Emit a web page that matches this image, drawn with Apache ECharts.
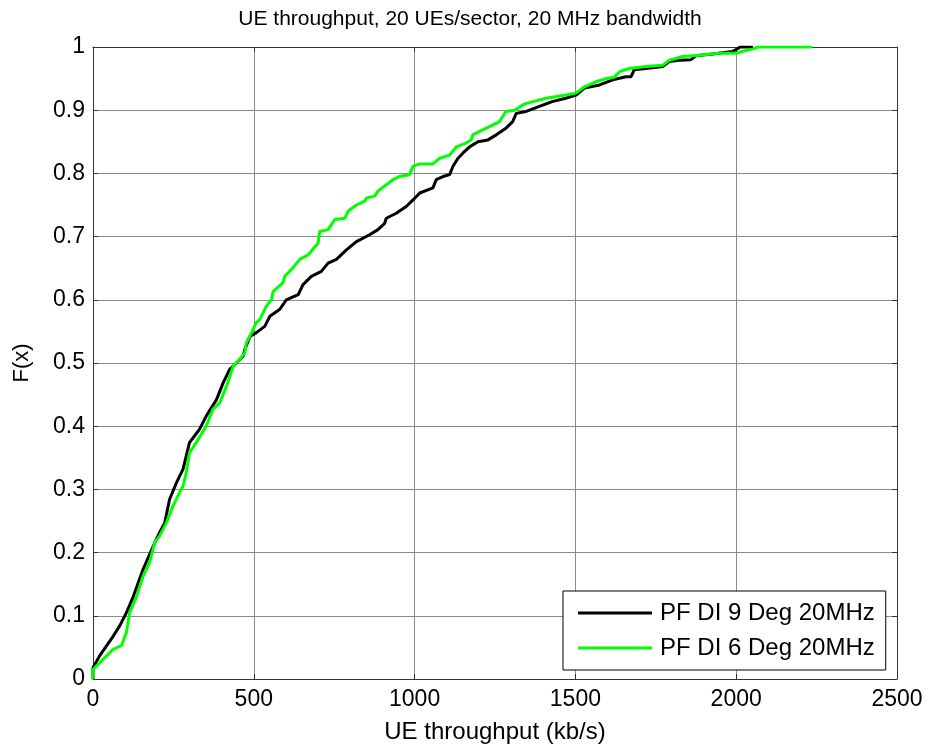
<!DOCTYPE html>
<html>
<head>
<meta charset="utf-8">
<script src="https://cdn.jsdelivr.net/npm/echarts@6/dist/echarts.min.js"></script>
<style>
  html, body { margin: 0; padding: 0; background: #fff; }
  #chart { width: 930px; height: 749px; }
</style>
</head>
<body>
<div id="chart"></div>
<script>
// Empirical CDF of UE throughput (kb/s), PF scheduler with 9 degree down-tilt
const di9Throughput = [0, 0, 21, 63, 83, 104, 125, 156, 187, 207, 223, 238, 259, 280, 300, 331, 352, 384, 405, 425, 446, 467, 472, 488, 508, 534, 550, 581, 601, 638, 653, 679, 710, 731, 757, 788, 819, 860, 886, 907, 912, 943, 975, 995, 1016, 1057, 1067, 1088, 1109, 1119, 1135, 1150, 1171, 1197, 1228, 1254, 1285, 1305, 1316, 1347, 1388, 1430, 1471, 1502, 1528, 1575, 1616, 1657, 1673, 1683, 1719, 1771, 1792, 1823, 1859, 1875, 1926, 1989, 2004, 2012, 2052];
const di9Cdf = [0, 0.018, 0.037, 0.068, 0.084, 0.105, 0.13, 0.174, 0.21, 0.232, 0.247, 0.284, 0.31, 0.332, 0.374, 0.395, 0.416, 0.442, 0.469, 0.49, 0.5, 0.511, 0.521, 0.542, 0.548, 0.558, 0.574, 0.585, 0.6, 0.608, 0.624, 0.637, 0.645, 0.658, 0.664, 0.679, 0.692, 0.703, 0.711, 0.721, 0.729, 0.737, 0.748, 0.758, 0.769, 0.777, 0.79, 0.795, 0.798, 0.811, 0.824, 0.832, 0.842, 0.85, 0.853, 0.861, 0.872, 0.882, 0.895, 0.898, 0.906, 0.914, 0.919, 0.924, 0.935, 0.94, 0.948, 0.953, 0.953, 0.964, 0.966, 0.969, 0.977, 0.979, 0.98, 0.986, 0.989, 0.993, 0.997, 1.0, 1.0];

// Same, 6 degree down-tilt
const di6Throughput = [0, 0, 21, 63, 89, 104, 114, 135, 156, 176, 192, 207, 228, 249, 269, 280, 290, 300, 321, 352, 373, 394, 415, 436, 456, 472, 477, 493, 508, 519, 539, 555, 560, 591, 596, 617, 643, 669, 700, 705, 731, 752, 783, 793, 819, 845, 850, 876, 886, 907, 933, 953, 984, 995, 1016, 1057, 1078, 1109, 1130, 1160, 1176, 1181, 1212, 1233, 1264, 1284, 1311, 1342, 1357, 1409, 1471, 1502, 1528, 1564, 1595, 1621, 1637, 1668, 1719, 1771, 1792, 1833, 1885, 1947, 2001, 2012, 2052, 2068, 2237];
const di6Cdf = [0, 0.015, 0.026, 0.047, 0.053, 0.074, 0.105, 0.13, 0.163, 0.184, 0.216, 0.226, 0.247, 0.274, 0.295, 0.305, 0.326, 0.358, 0.374, 0.4, 0.427, 0.437, 0.463, 0.495, 0.506, 0.516, 0.532, 0.548, 0.564, 0.569, 0.59, 0.6, 0.613, 0.627, 0.637, 0.648, 0.664, 0.671, 0.69, 0.708, 0.711, 0.727, 0.729, 0.74, 0.75, 0.756, 0.761, 0.764, 0.772, 0.78, 0.79, 0.795, 0.798, 0.811, 0.815, 0.815, 0.824, 0.829, 0.842, 0.848, 0.853, 0.861, 0.869, 0.874, 0.882, 0.898, 0.9, 0.91, 0.912, 0.919, 0.924, 0.927, 0.937, 0.945, 0.95, 0.952, 0.961, 0.966, 0.969, 0.971, 0.979, 0.985, 0.987, 0.99, 0.99, 0.992, 0.997, 1.0, 1.0];

const seriesNames = ['PF DI 9 Deg 20MHz', 'PF DI 6 Deg 20MHz'];
const seriesColors = ['#000000', '#00ff00'];

const zip = (xs, ys) => xs.map((x, i) => [x, ys[i]]);

const FONT = '"Liberation Sans", Arial, sans-serif';
const AXIS_COLOR = '#333333';
const GRID_COLOR = '#8c8c8c';

function xAxisDef(position, showLabels) {
  return {
    type: 'value', position, min: 0, max: 2500, interval: 500,
    axisLine: { show: true, onZero: false, lineStyle: { color: AXIS_COLOR, width: 1 } },
    axisTick: { show: true, inside: true, length: 5, lineStyle: { color: AXIS_COLOR } },
    axisLabel: { show: showLabels, color: '#000', fontFamily: FONT, fontSize: 23, margin: 9,
                 formatter: v => String(v) },
    splitLine: { show: showLabels, lineStyle: { color: GRID_COLOR, width: 1 } },
    name: showLabels ? 'UE throughput (kb/s)' : '',
    nameLocation: 'middle', nameGap: 41,
    nameTextStyle: { color: '#000', fontFamily: FONT, fontSize: 24 }
  };
}
function yAxisDef(position, showLabels) {
  return {
    type: 'value', position, min: 0, max: 1, interval: 0.1,
    axisLine: { show: true, onZero: false, lineStyle: { color: AXIS_COLOR, width: 1 } },
    axisTick: { show: true, inside: true, length: 5, lineStyle: { color: AXIS_COLOR } },
    axisLabel: { show: showLabels, color: '#000', fontFamily: FONT, fontSize: 23, margin: 8,
                 formatter: v => (Math.round(v * 10) / 10).toString() },
    splitLine: { show: showLabels, lineStyle: { color: GRID_COLOR, width: 1 } },
    name: showLabels ? 'F(x)' : '',
    nameLocation: 'middle', nameGap: 60,
    nameTextStyle: { color: '#000', fontFamily: FONT, fontSize: 22 }
  };
}

const chart = echarts.init(document.getElementById('chart'), null, { renderer: 'canvas' });
chart.setOption({
  animation: false,
  backgroundColor: '#ffffff',
  title: {
    text: 'UE throughput, 20 UEs/sector, 20 MHz bandwidth',
    left: 465, top: 4, textAlign: 'center',
    textStyle: { color: '#000', fontFamily: FONT, fontSize: 21, fontWeight: 'normal' }
  },
  grid: { left: 93, top: 47, width: 804, height: 633 },
  xAxis: [xAxisDef('bottom', true), xAxisDef('top', false)],
  yAxis: [yAxisDef('left', true), yAxisDef('right', false)],
  legend: {
    orient: 'vertical', left: 563, top: 591,
    padding: [10, 11, 10, 15],
    itemGap: 11, itemWidth: 74, itemHeight: 3,
    borderColor: '#000', borderWidth: 1, backgroundColor: '#fff',
    textStyle: { color: '#000', fontFamily: FONT, fontSize: 24, padding: [0, 0, 0, 3] },
    data: seriesNames.map(n => ({ name: n, icon: 'rect' }))
  },
  series: [
    { name: seriesNames[0], type: 'line', data: zip(di9Throughput, di9Cdf), showSymbol: false, symbol: 'none',
      lineStyle: { color: seriesColors[0], width: 3 }, itemStyle: { color: seriesColors[0] }, z: 3 },
    { name: seriesNames[1], type: 'line', data: zip(di6Throughput, di6Cdf), showSymbol: false, symbol: 'none',
      lineStyle: { color: seriesColors[1], width: 3 }, itemStyle: { color: seriesColors[1] }, z: 4 }
  ]
});
</script>
</body>
</html>
